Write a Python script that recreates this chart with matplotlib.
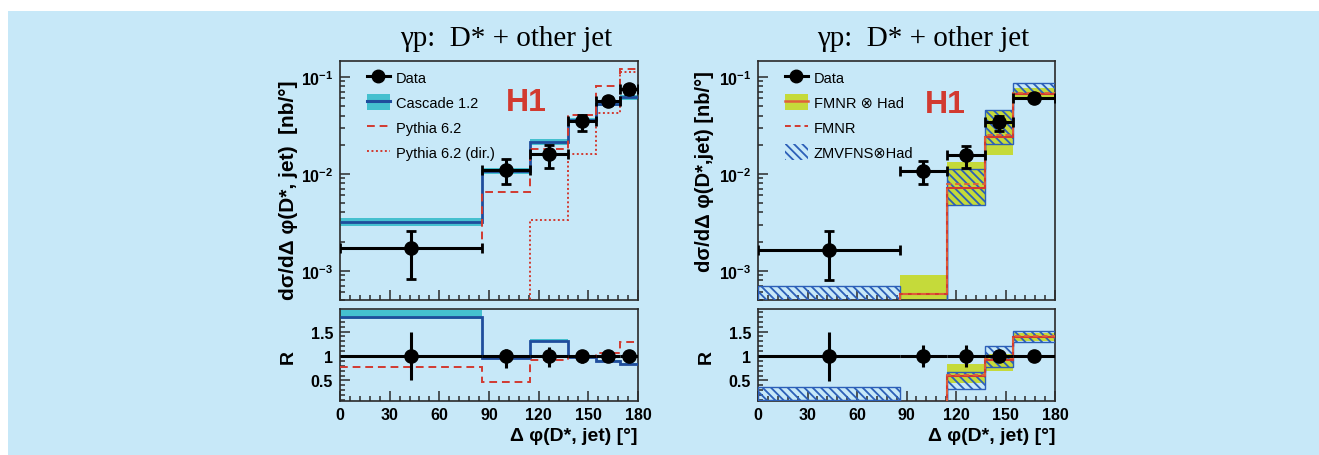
import numpy as np
import matplotlib
matplotlib.use("Agg")
import matplotlib.pyplot as plt
from matplotlib.patches import Rectangle, Patch
from matplotlib.lines import Line2D
from matplotlib.ticker import LogLocator, MultipleLocator, NullFormatter, FixedLocator

plt.rcParams['font.family'] = ['Liberation Sans', 'DejaVu Sans']
plt.rcParams['mathtext.fontset'] = 'custom'
plt.rcParams['mathtext.rm'] = 'Liberation Sans'
plt.rcParams['mathtext.bf'] = 'Liberation Sans:bold'
plt.rcParams['hatch.linewidth'] = 1.3

# ---------------- data ----------------
edges_left = [0, 85.9, 114.6, 137.5, 154.7, 169.0, 180]
edges_right = [0, 85.9, 114.6, 137.5, 154.7, 180]

data_left = [1.70e-3, 1.10e-2, 1.61e-2, 3.48e-2, 5.6e-2, 7.45e-2]
data_left_up = [2.6e-3, 1.41e-2, 2.0e-2, 4.07e-2, 6.2e-2, 8.3e-2]
data_left_dn = [8.2e-4, 7.9e-3, 1.15e-2, 2.8e-2, 5.1e-2, 6.6e-2]

cascade = [3.16e-3, 1.06e-2, 2.13e-2, 3.56e-2, 5.3e-2, 6.2e-2]
cascade_lo = [2.88e-3, 0.99e-2, 1.99e-2, 3.36e-2, 5.0e-2, 5.85e-2]
cascade_hi = [3.47e-3, 1.14e-2, 2.28e-2, 3.78e-2, 5.6e-2, 6.55e-2]
pythia = [1.68e-3, 6.45e-3, 1.81e-2, 4.07e-2, 8.0e-2, 0.122]
pythia_dir = [1e-5, 1e-5, 3.35e-3, 1.6e-2, 4.2e-2, 0.112]

r_data_left_up = [1.48, 1.14, 1.19, 1.10, 1.07, 1.06]
r_data_left_dn = [0.50, 0.76, 0.78, 0.86, 0.93, 0.94]
r_cascade = [1.80, 0.95, 1.31, 0.97, 0.90, 0.83]
r_cascade_lo = [1.75, 0.93, 1.28, 0.95, 0.88, 0.81]
r_cascade_hi = [1.93, 0.97, 1.34, 0.99, 0.92, 0.85]
r_pythia = [0.78, 0.47, 0.91, 0.97, 1.07, 1.29]

data_right = [1.65e-3, 1.08e-2, 1.55e-2, 3.4e-2, 6.1e-2]
data_right_up = [2.55e-3, 1.37e-2, 1.95e-2, 4.0e-2, 6.6e-2]
data_right_dn = [8.05e-4, 7.8e-3, 1.14e-2, 2.8e-2, 5.7e-2]

fmnr_had = [2e-4, 5.7e-4, 7.2e-3, 2.38e-2, 6.7e-2]
fmnr_had_lo = [1e-4, 2e-4, 4.75e-3, 1.55e-2, 6.2e-2]
fmnr_had_hi = [3e-4, 9.1e-4, 1.32e-2, 4.6e-2, 7.7e-2]
fmnr = [2e-4, 5.8e-4, 7.8e-3, 2.53e-2, 6.9e-2]
zmvfns_lo = [1e-4, 1e-4, 4.75e-3, 2.03e-2, 6.9e-2]
zmvfns_hi = [6.9e-4, 3e-4, 1.11e-2, 4.6e-2, 8.6e-2]

r_data_right_up = [1.48, 1.22, 1.22, 1.10, 1.05]
r_data_right_dn = [0.48, 0.77, 0.78, 0.90, 0.95]
r_fmnr_had = [0.02, 0.05, 0.59, 0.92, 1.38]
r_fmnr_had_lo = [0.0, 0.0, 0.45, 0.69, 1.30]
r_fmnr_had_hi = [0.03, 0.07, 0.83, 1.05, 1.46]
r_fmnr = [0.02, 0.05, 0.62, 0.95, 1.41]
r_zmvfns_lo = [0.11, 0.0, 0.32, 0.78, 1.28]
r_zmvfns_hi = [0.37, 0.03, 0.67, 1.21, 1.52]

title = "γp:  D* + other jet"
ylabel_left = "dσ/dΔ φ(D*, jet)  [nb/°]"
ylabel_right = "dσ/dΔ φ(D*,jet) [nb/°]"
xlabel = "Δ φ(D*, jet) [°]"
xticks = [0, 30, 60, 90, 120, 150, 180]

# ---------------- style ----------------
BG = '#c7e8f8'
CYAN = '#45c0cf'
DBLUE = '#1f4d9c'
RED = '#d23a30'
YG = '#c5da3a'
HBLUE = '#2c5fb8'
FRAME = '#2a2a2a'
HATCH = '\\\\\\\\'

W, H = 1319, 456
fig = plt.figure(figsize=(W / 100, H / 100), dpi=100)
fig.patch.set_facecolor('white')
fig.add_artist(Rectangle((8 / W, 0), 1 - 8 / W, 1 - 12 / H, transform=fig.transFigure,
                         facecolor=BG, edgecolor='none', zorder=-10))


def px_axes(x0, x1, y0, y1):
    return fig.add_axes([x0 / W, 1 - y1 / H, (x1 - x0) / W, (y1 - y0) / H])


axL = px_axes(340, 638, 62, 301)
rL = px_axes(340, 638, 310, 402)
axR = px_axes(758, 1055, 62, 301)
rR = px_axes(758, 1055, 310, 402)


def style_axes(ax, main):
    ax.set_facecolor('none')
    for s in ax.spines.values():
        s.set_color(FRAME)
        s.set_linewidth(1.2)
    ax.set_xlim(0, 180)
    ax.xaxis.set_major_locator(FixedLocator(xticks))
    ax.xaxis.set_minor_locator(MultipleLocator(6))
    ax.tick_params(which='both', direction='in', top=False, right=False, color=FRAME,
                   labelsize=11.5, width=1.1)
    ax.tick_params(which='major', length=7)
    ax.tick_params(which='minor', length=3.5)
    if main:
        ax.set_yscale('log')
        ax.set_ylim(5.0e-4, 0.146)
        ax.yaxis.set_minor_locator(LogLocator(base=10, subs=np.arange(2, 10), numticks=10))
        ax.yaxis.set_minor_formatter(NullFormatter())
        ax.set_yticks([1e-3, 1e-2, 1e-1])
        ax.set_yticklabels([r'$\mathbf{10^{-3}}$', r'$\mathbf{10^{-2}}$', r'$\mathbf{10^{-1}}$'])
        ax.tick_params(axis='x', labelbottom=False)
        ax.tick_params(axis='y', pad=5)
    else:
        ax.set_ylim(0.08, 1.96)
        ax.yaxis.set_major_locator(FixedLocator([0.5, 1, 1.5]))
        ax.yaxis.set_minor_locator(MultipleLocator(0.1))
        ax.set_yticklabels(['0.5', '1', '1.5'])
        ax.tick_params(axis='y', pad=5)
        ax.tick_params(axis='x', pad=4)
        for lab in ax.get_xticklabels() + ax.get_yticklabels():
            lab.set_fontweight('bold')


def centers(edges):
    e = np.asarray(edges)
    return 0.5 * (e[:-1] + e[1:]), 0.5 * (e[1:] - e[:-1])


def draw_data(ax, edges, y, up, dn, caps):
    xc, xw = centers(edges)
    y = np.asarray(y)
    yerr = [y - np.asarray(dn), np.asarray(up) - y]
    ax.errorbar(xc, y, xerr=xw, yerr=yerr, fmt='o', color='black', ms=9.5,
                elinewidth=2.2, capsize=3.5 if caps else 0, capthick=2.0, zorder=10)


LEG = dict(loc='upper left', frameon=False, fontsize=10.5, handlelength=1.6,
           handleheight=1.3, labelspacing=0.62, handletextpad=0.4, borderaxespad=0.0,
           borderpad=0.0, bbox_to_anchor=(0.09, 0.965))

# ---------------- left main ----------------
style_axes(axL, True)
axL.stairs(cascade_hi, edges_left, baseline=cascade_lo, fill=True, color=CYAN, lw=0, zorder=2)
axL.stairs(cascade, edges_left, color=DBLUE, lw=2.0, baseline=None, zorder=3)
axL.stairs(pythia, edges_left, color=RED, lw=1.4, ls=(0, (4, 2.5)), baseline=None, zorder=4)
axL.stairs(pythia_dir, edges_left, color=RED, lw=1.4, ls=(0, (1, 1.3)), baseline=None, zorder=4)
draw_data(axL, edges_left, data_left, data_left_up, data_left_dn, True)

hL = [Line2D([], [], color='black', marker='o', ms=9, lw=2.2),
      (Patch(facecolor=CYAN, edgecolor='none'), Line2D([], [], color=DBLUE, lw=2.2)),
      Line2D([], [], color=RED, lw=1.4, ls=(0, (4, 2.5))),
      Line2D([], [], color=RED, lw=1.4, ls=(0, (1, 1.3)))]
axL.legend(hL, ['Data', 'Cascade 1.2', 'Pythia 6.2', 'Pythia 6.2 (dir.)'], **LEG)
axL.text(0.624, 0.83, 'H1', transform=axL.transAxes, color=RED, fontsize=23,
         fontweight='bold', ha='center', va='center')

# ---------------- left ratio ----------------
style_axes(rL, False)
rL.stairs(r_cascade_hi, edges_left, baseline=r_cascade_lo, fill=True, color=CYAN, lw=0, zorder=2)
rL.stairs(r_cascade, edges_left, color=DBLUE, lw=2.0, baseline=None, zorder=3)
rL.stairs(r_pythia, edges_left, color=RED, lw=1.4, ls=(0, (4, 2.5)), baseline=None, zorder=4)
draw_data(rL, edges_left, np.ones(len(data_left)), r_data_left_up, r_data_left_dn, False)

# ---------------- right main ----------------
style_axes(axR, True)
axR.stairs(fmnr_had_hi, edges_right, baseline=fmnr_had_lo, fill=True, color=YG, lw=0, zorder=2)
axR.stairs(zmvfns_hi, edges_right, baseline=zmvfns_lo, fill=True, facecolor='none',
           edgecolor=HBLUE, hatch=HATCH, lw=1.0, zorder=3)
axR.stairs(fmnr_had, edges_right, color=RED, lw=1.5, baseline=None, zorder=4)
axR.stairs(fmnr, edges_right, color='#e0603a', lw=1.3, ls=(0, (3, 2)), baseline=None, zorder=4)
draw_data(axR, edges_right, data_right, data_right_up, data_right_dn, True)

hR = [Line2D([], [], color='black', marker='o', ms=9, lw=2.2),
      (Patch(facecolor=YG, edgecolor='none'), Line2D([], [], color='#e0603a', lw=1.8)),
      Line2D([], [], color=RED, lw=1.4, ls=(0, (3, 2))),
      Patch(facecolor='none', edgecolor=HBLUE, hatch=HATCH, lw=0)]
axR.legend(hR, ['Data', 'FMNR ⊗ Had', 'FMNR', 'ZMVFNS⊗Had'], **LEG)
axR.text(0.63, 0.82, 'H1', transform=axR.transAxes, color=RED, fontsize=23,
         fontweight='bold', ha='center', va='center')

# ---------------- right ratio ----------------
style_axes(rR, False)
rR.stairs(r_fmnr_had_hi, edges_right, baseline=r_fmnr_had_lo, fill=True, color=YG, lw=0, zorder=2)
rR.stairs(r_zmvfns_hi, edges_right, baseline=r_zmvfns_lo, fill=True, facecolor='none',
          edgecolor=HBLUE, hatch=HATCH, lw=1.0, zorder=3)
rR.stairs(r_fmnr_had, edges_right, color=RED, lw=1.5, baseline=None, zorder=4)
rR.stairs(r_fmnr, edges_right, color='#e0603a', lw=1.3, ls=(0, (3, 2)), baseline=None, zorder=4)
draw_data(rR, edges_right, np.ones(len(data_right)), r_data_right_up, r_data_right_dn, False)

# ---------------- texts ----------------
for xc in (506, 923):
    fig.text(xc / W, 1 - 39 / H, title, ha='center', va='center', fontsize=21,
             family=['Liberation Serif', 'DejaVu Serif'])
fig.text(288 / W, 1 - 190 / H, ylabel_left, rotation=90, ha='center', va='center',
         fontsize=15, fontweight='bold')
fig.text(705 / W, 1 - 172 / H, ylabel_right, rotation=90, ha='center', va='center',
         fontsize=14.5, fontweight='bold')
for xr in (288, 706):
    fig.text(xr / W, 1 - 357 / H, 'R', rotation=90, ha='center', va='center',
             fontsize=14, fontweight='bold')
for xe in (637, 1055):
    fig.text(xe / W, 1 - 437 / H, xlabel, ha='right', va='center', fontsize=14,
             fontweight='bold')

fig.savefig('out.png', dpi=100, facecolor=fig.get_facecolor())
